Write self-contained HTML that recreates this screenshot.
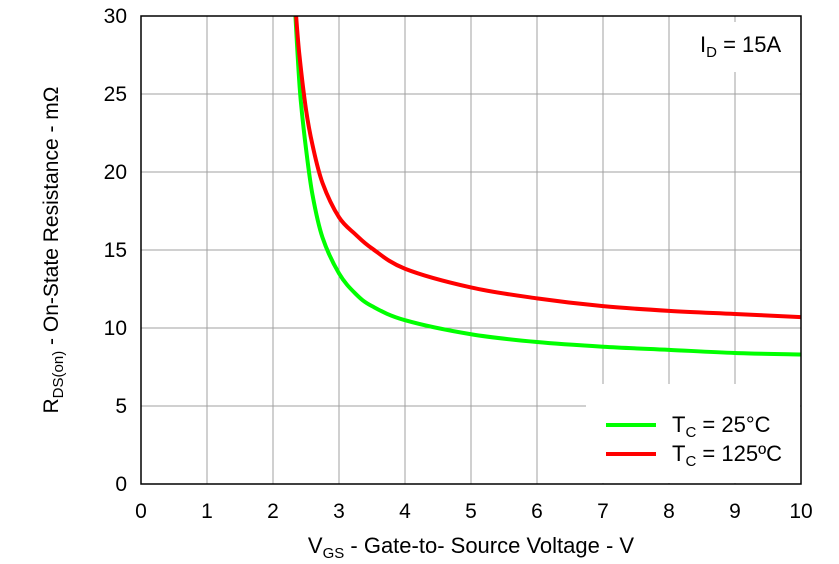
<!DOCTYPE html>
<html><head><meta charset="utf-8"><style>
body{margin:0;background:#fff;}
svg text{font-family:"Liberation Sans",Arial,sans-serif;fill:#000;}
</style></head><body>
<svg id="c" width="839" height="559">
<rect x="0" y="0" width="839" height="559" fill="#fff"/>
<g id="grid"></g>
<rect x="586" y="384" width="214" height="99" fill="#fff"/>
<rect x="690" y="22" width="108" height="50" fill="#fff"/>
<g id="series"></g>
<rect x="141" y="16" width="660" height="468" fill="none" stroke="#000" stroke-width="1.5"/>
<g id="ticks"></g>
<text x="700" y="52" font-size="22">I<tspan font-size="15" dy="5">D</tspan><tspan dy="-5"> = 15A</tspan></text>
<line x1="606" y1="425" x2="656" y2="425" stroke="#00ff00" stroke-width="4"/>
<text x="672" y="432" font-size="22">T<tspan font-size="15" dy="5">C</tspan><tspan dy="-5"> = 25°C</tspan></text>
<line x1="606" y1="454" x2="656" y2="454" stroke="#ff0000" stroke-width="4"/>
<text x="672" y="461" font-size="22">T<tspan font-size="15" dy="5">C</tspan><tspan dy="-5"> = 125ºC</tspan></text>
<text x="471" y="553" font-size="22" text-anchor="middle">V<tspan font-size="15" dy="5">GS</tspan><tspan dy="-5"> - Gate-to- Source Voltage - V</tspan></text>
<text transform="translate(58,250) rotate(-90)" font-size="21" text-anchor="middle">R<tspan font-size="15" dy="5">DS(on)</tspan><tspan dy="-5"> - On-State Resistance - mΩ</tspan></text>
</svg>
<script>
const xTicks=[0,1,2,3,4,5,6,7,8,9,10];
const yTicks=[0,5,10,15,20,25,30];
const vgs25=[2.34,2.38,2.42,2.5,2.6,2.75,3,3.25,3.5,4,5,6,7,8,9,10];
const r25=[30,27,24.6,21.5,18.5,15.8,13.5,12.2,11.4,10.5,9.6,9.1,8.8,8.6,8.4,8.3];
const vgs125=[2.35,2.4,2.5,2.6,2.75,3,3.25,3.5,4,5,6,7,8,9,10];
const r125=[30,27.5,24,21.7,19.3,17.1,16,15.1,13.8,12.6,11.9,11.4,11.1,10.9,10.7];
const NS="http://www.w3.org/2000/svg";
const X=v=>141+v*66, Y=v=>484-v*15.6;
const grid=document.getElementById('grid'),ticks=document.getElementById('ticks'),ser=document.getElementById('series');
function mk(t,a,p){const e=document.createElementNS(NS,t);for(const k in a)e.setAttribute(k,a[k]);p.appendChild(e);return e;}
xTicks.forEach(v=>{
 const l=mk('line',{x1:X(v),x2:X(v),y1:16,y2:484,stroke:'#a0a0a0','stroke-width':1},grid);
 
 
 const t=mk('text',{x:X(v),y:518,'font-size':21,'text-anchor':'middle'},ticks);t.textContent=v;
 
 
});
yTicks.forEach(v=>{
 const l=mk('line',{x1:141,x2:801,y1:Y(v),y2:Y(v),stroke:'#a0a0a0','stroke-width':1},grid);
 
 
 const t=mk('text',{x:127,y:Y(v)+7,'font-size':21,'text-anchor':'end'},ticks);t.textContent=v;
 
 
});
function path(xs,ys){
 const p=xs.map((x,i)=>[X(x),Y(ys[i])]);
 let d='M'+p[0][0]+','+p[0][1];
 for(let i=0;i<p.length-1;i++){
  const p0=p[i-1]||p[i],p1=p[i],p2=p[i+1],p3=p[i+2]||p2;
  const c1=[p1[0]+(p2[0]-p0[0])/6,p1[1]+(p2[1]-p0[1])/6];
  const c2=[p2[0]-(p3[0]-p1[0])/6,p2[1]-(p3[1]-p1[1])/6];
  d+=` C${c1[0]},${c1[1]} ${c2[0]},${c2[1]} ${p2[0]},${p2[1]}`;
 }
 return d;
}
const g=mk('path',{d:path(vgs25,r25),fill:'none',stroke:'#00ff00','stroke-width':4,'stroke-linejoin':'round'},ser);


const r=mk('path',{d:path(vgs125,r125),fill:'none',stroke:'#ff0000','stroke-width':4,'stroke-linejoin':'round'},ser);


</script>
</body></html>
